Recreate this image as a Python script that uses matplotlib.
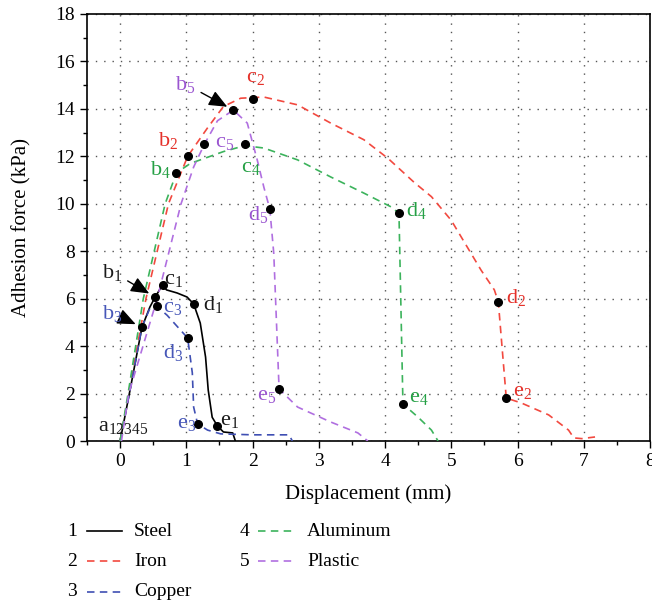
"""Adhesion force vs displacement for five plate materials."""

import matplotlib

matplotlib.use("Agg")
import matplotlib.pyplot as plt
from matplotlib.lines import Line2D
from matplotlib.ticker import MultipleLocator

plt.rcParams["font.family"] = ["Liberation Serif", "DejaVu Serif"]
plt.rcParams["mathtext.fontset"] = "custom"
plt.rcParams["mathtext.rm"] = "Liberation Serif"

# ---- data ----
materials = ["Steel", "Iron", "Copper", "Aluminum", "Plastic"]

steel_x = [0, 0.15, 0.33, 0.45, 0.53, 0.64, 0.70, 0.86, 1.01, 1.11, 1.21, 1.29,
           1.33, 1.39, 1.47, 1.56, 1.70, 1.74]
steel_y = [0, 2.15, 4.8, 5.65, 6.07, 6.58, 6.37, 6.24, 6.07, 5.78, 4.97, 3.54,
           2.15, 1.0, 0.63, 0.38, 0.34, 0.0]

iron_x = [0, 0.13, 0.39, 0.73, 1.02, 1.32, 1.56, 1.82, 2.17, 2.68, 3.18, 3.68,
          4.05, 4.44, 4.70, 5.00, 5.45, 5.65, 5.71, 5.83, 6.06, 6.47, 6.77,
          6.85, 6.97, 7.17]
iron_y = [0, 2.0, 6.0, 10.0, 12.0, 13.2, 14.1, 14.45, 14.5, 14.17, 13.4, 12.7,
          11.9, 10.9, 10.3, 9.3, 7.2, 6.37, 5.86, 1.81, 1.6, 1.1, 0.46,
          0.13, 0.1, 0.17]

copper_x = [0, 0.15, 0.33, 0.45, 0.55, 0.71, 0.91, 1.02, 1.09, 1.11, 1.17,
            1.32, 1.52, 2.0, 2.55, 2.60]
copper_y = [0, 2.15, 4.8, 5.6, 5.69, 5.3, 4.68, 4.34, 2.87, 1.43, 0.72,
            0.46, 0.30, 0.26, 0.26, 0.0]

alu_x = [0, 0.12, 0.35, 0.68, 0.85, 1.06, 1.56, 1.88, 2.17, 2.68, 3.18, 3.68,
         4.09, 4.21, 4.27, 4.50, 4.70, 4.80]
alu_y = [0, 2.0, 6.0, 10.0, 11.3, 11.7, 12.2, 12.45, 12.35, 11.85, 11.13,
         10.45, 9.87, 9.6, 1.56, 1.0, 0.46, 0.0]

plastic_x = [0.02, 0.13, 0.56, 0.92, 1.11, 1.27, 1.47, 1.71, 1.92, 2.07, 2.17,
             2.26, 2.32, 2.40, 2.68, 3.18, 3.59, 3.74]
plastic_y = [0, 2.0, 6.0, 10.0, 11.55, 12.5, 13.5, 13.95, 13.4, 11.85, 10.7,
             9.78, 7.9, 2.19, 1.43, 0.8, 0.34, 0.0]

# marked points b, c, d, e of each curve
steel_pts = {"b": (0.53, 6.07), "c": (0.64, 6.58), "d": (1.11, 5.78), "e": (1.47, 0.63)}
iron_pts = {"b": (1.02, 12.0), "c": (2.0, 14.4), "d": (5.71, 5.86), "e": (5.83, 1.81)}
copper_pts = {"b": (0.33, 4.8), "c": (0.55, 5.69), "d": (1.02, 4.34), "e": (1.17, 0.72)}
alu_pts = {"b": (0.85, 11.3), "c": (1.88, 12.5), "d": (4.21, 9.6), "e": (4.27, 1.56)}
plastic_pts = {"b": (1.71, 13.95), "c": (1.27, 12.5), "d": (2.26, 9.78), "e": (2.40, 2.19)}

curves = [
    (steel_x, steel_y, steel_pts),
    (iron_x, iron_y, iron_pts),
    (copper_x, copper_y, copper_pts),
    (alu_x, alu_y, alu_pts),
    (plastic_x, plastic_y, plastic_pts),
]

# ---- styling ----
line_colors = ["black", "#f2493f", "#3f4fb3", "#3cb35c", "#b06fe0"]
text_colors = ["#1a1a1a", "#e5312a", "#4757b8", "#25a045", "#9a55d0"]
DASH = (0, (4.5, 3.2))

# label offsets (pixels) from each marked point; arrows for some b-labels
label_offsets = [
    {"b": (-53, 25), "c": (1, 5), "d": (9, -1), "e": (3, 6)},
    {"b": (-30, 16), "c": (-7, 22), "d": (8, 4), "e": (7, 7)},
    {"b": (-40, 14), "c": (6, -1), "d": (-25, -14), "e": (-21, 0)},
    {"b": (-26, 3), "c": (-4, -23), "d": (7, 3), "e": (6, 6)},
    {"b": (-58, 26), "c": (11, 2), "d": (-22, -6), "e": (-22, -6)},
]
arrow_labels = {(0, "b"), (2, "b"), (4, "b")}
LABEL_SIZE = 16

fig = plt.figure(figsize=(6.52, 6.08), dpi=100)
ax = fig.add_axes([87 / 652, 1 - 441 / 608, (650 - 87) / 652, (441 - 14) / 608])

for i, (xs, ys, pts) in enumerate(curves):
    ls = "-" if i == 0 else DASH
    ax.plot(xs, ys, color=line_colors[i], lw=1.2, linestyle=ls, zorder=3)
    for key, (px, py) in pts.items():
        ax.plot(px, py, "o", color="black", ms=5.5, zorder=5)
        dx, dy = label_offsets[i][key]
        kw = dict(textcoords="offset pixels", xytext=(dx, dy), ha="left",
                  va="center", fontsize=LABEL_SIZE, color=text_colors[i], zorder=6)
        if (i, key) in arrow_labels:
            kw["arrowprops"] = dict(arrowstyle="-|>,head_length=0.7,head_width=0.3",
                                    color="black", lw=1.0, shrinkA=2, shrinkB=5)
        ax.annotate(r"$\mathregular{%s_{%d}}$" % (key, i + 1), xy=(px, py), **kw)

# common starting point of all five curves
ax.annotate(r"$\mathregular{a_{12345}}$", xy=(0, 0), textcoords="offset pixels",
            xytext=(-22, 15), ha="left", va="center", fontsize=LABEL_SIZE,
            color="#1a1a1a")

ax.set_xlim(-0.5, 8)
ax.set_ylim(0, 18)
ax.xaxis.set_major_locator(MultipleLocator(1))
ax.xaxis.set_minor_locator(MultipleLocator(0.5))
ax.yaxis.set_major_locator(MultipleLocator(2))
ax.yaxis.set_minor_locator(MultipleLocator(1))
ax.tick_params(which="major", direction="out", length=5, width=1, labelsize=14, pad=4)
ax.tick_params(which="minor", direction="out", length=3, width=1)
ax.grid(True, which="major", color="#555555", linestyle=(0, (1, 5)), lw=1.0)
for sp in ax.spines.values():
    sp.set_linewidth(1.2)

ax.set_xlabel("Displacement (mm)", fontsize=15, labelpad=10)
ax.set_ylabel("Adhesion force (kPa)", fontsize=15, labelpad=17)

# ---- numbered legend below the axes ----
rows = [531, 561, 592]
cols = [(72, 87, 122, 134), (245, 258, 294, 307)]
for i, name in enumerate(materials):
    c = cols[i // 3]
    ry = 1 - rows[i % 3] / 608
    fig.text(c[0] / 652, ry, str(i + 1), ha="center", va="center", fontsize=14)
    fig.add_artist(Line2D([c[1] / 652, c[2] / 652], [ry, ry], color=line_colors[i],
                          lw=1.2, linestyle="-" if i == 0 else DASH,
                          transform=fig.transFigure))
    fig.text(c[3] / 652, ry, name, ha="left", va="center", fontsize=14)

fig.savefig("out.png", dpi=100)
